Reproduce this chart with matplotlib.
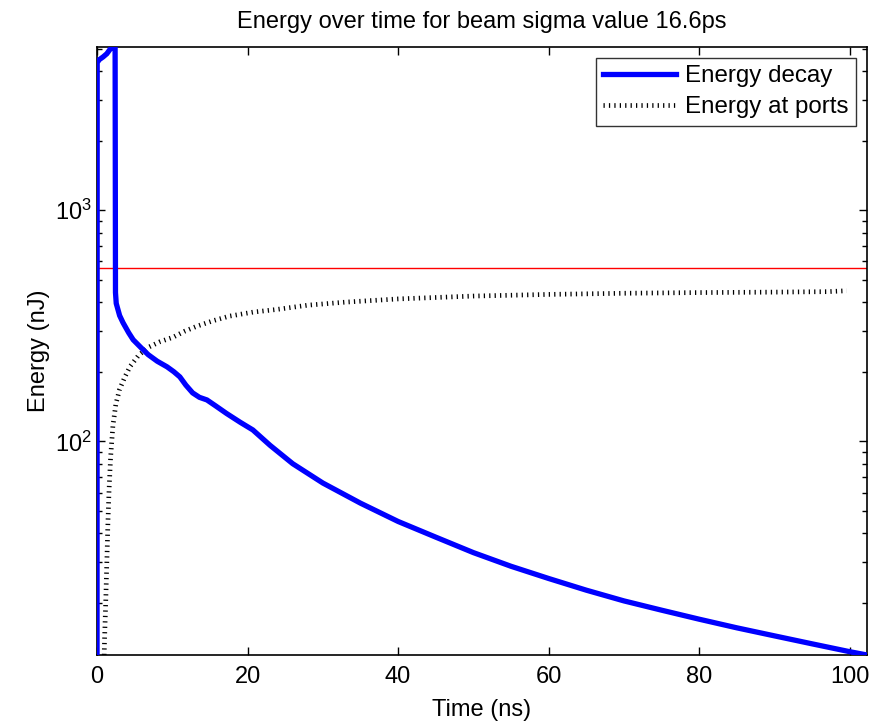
import matplotlib
matplotlib.use("Agg")
import matplotlib.pyplot as plt
from matplotlib.ticker import LogLocator, FixedLocator, NullFormatter

plt.rcParams['font.family'] = ['Liberation Sans', 'DejaVu Sans']
plt.rcParams['mathtext.default'] = 'regular'
plt.rcParams['lines.scale_dashes'] = False

# Stored energy in the structure (nJ) versus time (ns)
decay_time = [0, 0.02, 0.3, 0.8, 1.3, 1.7, 2.0, 2.4, 2.45, 2.55, 3.0, 3.45, 4.2, 4.8,
              5.8, 6.8, 8.0, 9.3, 10.2, 11.0, 11.8, 12.7, 13.6, 14.6, 15.8, 17.2,
              19.0, 20.7, 23, 26, 30, 35, 40, 45, 50, 55, 60, 65, 70, 75, 80, 85,
              90, 95, 100, 102.3]
decay_energy = [11.9, 4350, 4480, 4600, 4750, 4950, 5080, 5080, 440, 395, 350, 326,
                295, 275, 255, 237, 222, 210, 200, 190, 175, 162, 155, 151, 142, 132,
                121, 112, 96, 80, 66, 54, 45, 38.5, 33, 28.8, 25.5, 22.7, 20.4, 18.6,
                17.0, 15.6, 14.4, 13.3, 12.3, 11.9]

# Cumulative energy leaving through the ports (nJ)
port_time = [0.95, 1.0, 1.15, 1.3, 1.45, 1.6, 1.8, 2.1, 2.5, 3.0, 3.7, 4.4, 5.5, 6.8,
             8.4, 10.1, 11.7, 13.3, 15.5, 17.6, 20.7, 23.9, 28, 33, 40, 50, 60, 70,
             80, 90, 97, 99.6]
port_energy = [11.9, 14, 20, 30, 45, 62, 85, 116, 145, 168, 190, 211, 235, 255, 270,
               282, 300, 315, 333, 348, 362, 372, 388, 400, 413, 425, 432, 437, 440,
               442, 444, 448]

# Reference energy level (nJ)
reference_level = 560

x_ticks = [0, 20, 40, 60, 80, 100]
x_limits = (0, 102.3)
y_limits = (11.9, 5080)

fig = plt.figure(figsize=(8.83, 7.24), dpi=100)
ax = fig.add_axes([0.1099, 0.0953, 0.8720, 0.8398])

ax.plot(decay_time, decay_energy, color='#0000ff', lw=3.8, label='Energy decay',
        solid_joinstyle='miter', zorder=3)
ax.plot(port_time, port_energy, color='black', lw=3.4, dashes=(0.9, 3.0),
        dash_capstyle='butt', label='Energy at ports', zorder=2)
ax.axhline(reference_level, color='#ff0000', lw=1.0, zorder=1)

ax.set_yscale('log')
ax.set_xlim(*x_limits)
ax.set_ylim(*y_limits)
ax.xaxis.set_major_locator(FixedLocator(x_ticks))
ax.yaxis.set_major_locator(LogLocator(base=10))
ax.yaxis.set_minor_locator(LogLocator(base=10, subs=range(2, 10)))
ax.yaxis.set_minor_formatter(NullFormatter())

ax.tick_params(which='both', direction='in', top=True, right=True, labelsize=17,
               width=1.0, colors='black')
ax.tick_params(axis='x', which='major', pad=8)
ax.tick_params(which='major', length=6)
ax.tick_params(which='minor', length=3.5)
for s in ax.spines.values():
    s.set_linewidth(1.2)

ax.set_xlabel('Time (ns)', fontsize=17, labelpad=8)
ax.set_ylabel('Energy (nJ)', fontsize=17, labelpad=4)
ax.set_title('Energy over time for beam sigma value 16.6ps', fontsize=17, pad=14)

leg = ax.legend(loc='upper right', fontsize=17.4, frameon=True, fancybox=False,
                borderaxespad=0.45, handlelength=3.0, handletextpad=0.4,
                borderpad=0.3, labelspacing=0.38)
leg.get_frame().set_edgecolor('black')
leg.get_frame().set_linewidth(1.0)

fig.savefig('out.png', dpi=100)
